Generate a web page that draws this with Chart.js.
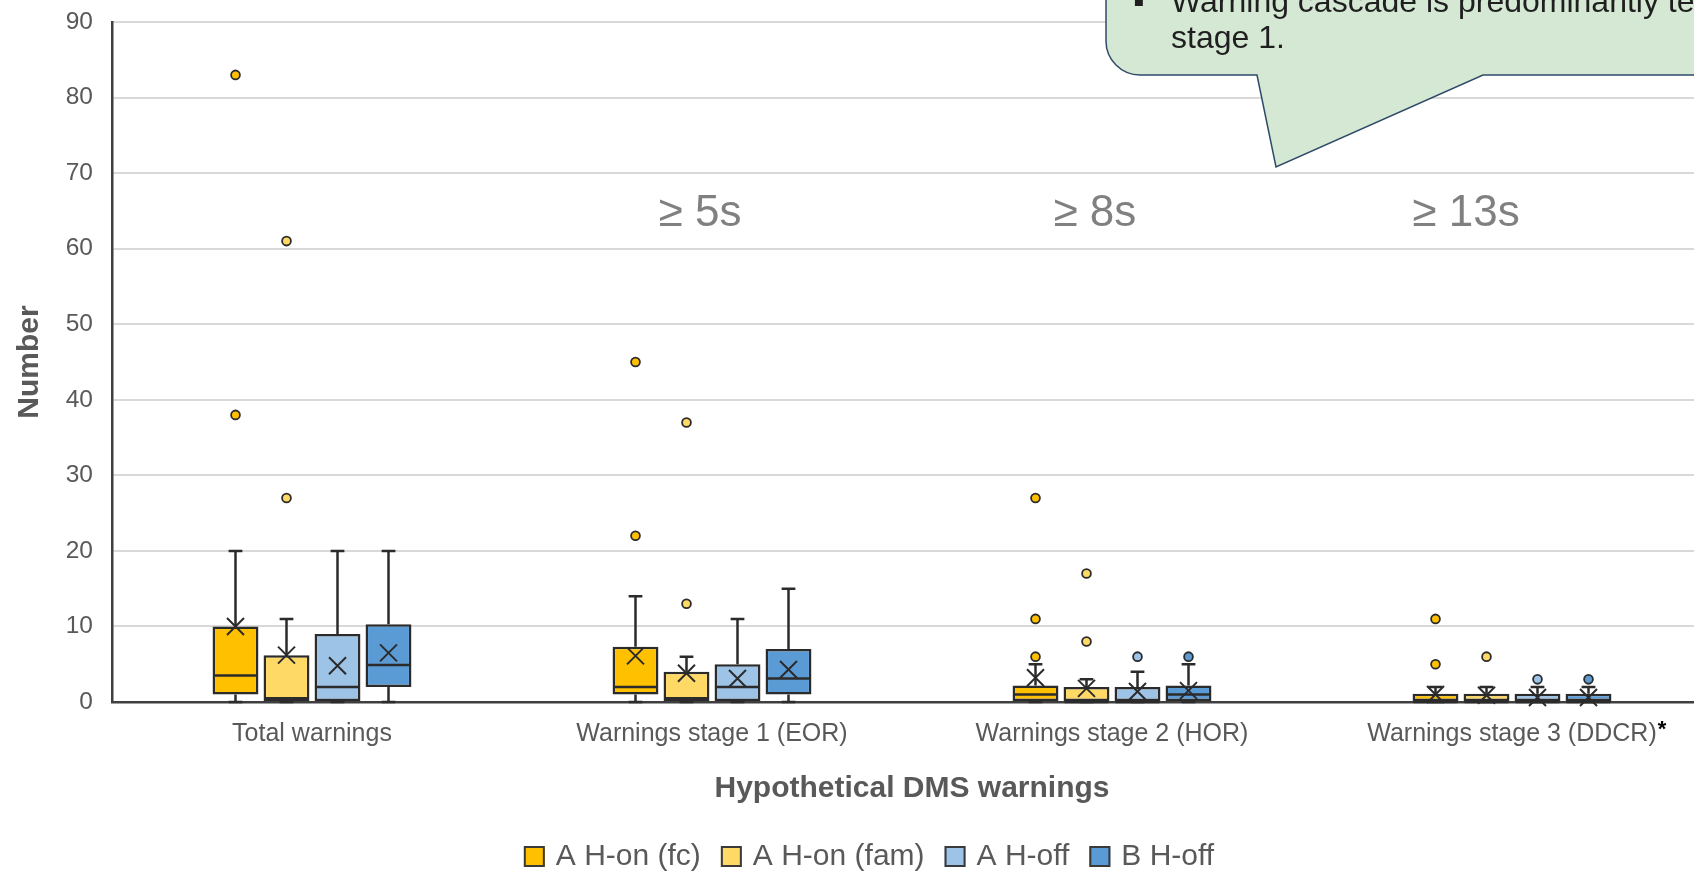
<!DOCTYPE html>
<html>
<head>
<meta charset="utf-8">
<script src="https://cdn.jsdelivr.net/npm/chart.js@4.4.1/dist/chart.umd.min.js"></script>
<style>
  html, body { margin: 0; padding: 0; background: #ffffff; overflow: hidden; width: 1694px; height: 875px; }
  canvas { display: block; }
</style>
</head>
<body>
<canvas id="chart" width="1738" height="875"></canvas>
<script>
// Categories on the x axis and the four groups compared in each
const categories = ['Total warnings', 'Warnings stage 1 (EOR)', 'Warnings stage 2 (HOR)', 'Warnings stage 3 (DDCR)'];
const seriesNames = ['A H-on (fc)', 'A H-on (fam)', 'A H-off', 'B H-off'];
const seriesColors = ['#FFC000', '#FFD966', '#9DC3E6', '#5B9BD5'];

// Box-plot statistics: one row per group, one value per category
const whiskerLow = [
  [0, 0, 0, 0],
  [0, 0, 0, 0],
  [0, 0, 0, 0],
  [0, 0, 0, 0]
];
const quartile1 = [
  [1, 1, 0, 0],
  [0, 0, 0, 0],
  [0, 0, 0, 0],
  [2, 1, 0, 0]
];
const medians = [
  [3.5, 2, 1, 0],
  [0.5, 0.5, 0, 0],
  [2, 2, 0, 0],
  [4.9, 3.1, 1, 0]
];
const quartile3 = [
  [10, 7.3, 2.2, 1.1],
  [6.2, 4, 2, 1.1],
  [9, 5, 2, 1.1],
  [10.3, 7, 2.2, 1.1]
];
const whiskerHigh = [
  [20, 14, 5, 2],
  [11, 6, 3, 2],
  [20, 11, 4, 2],
  [20, 15, 5, 2]
];
const means = [
  [10, 6.1, 3.2, 1.0],
  [6.2, 3.8, 1.8, 0.9],
  [4.8, 3.1, 1.4, 0.6],
  [6.5, 4.3, 1.5, 0.6]
];
const outliers = [
  [[38, 83], [22, 45], [6, 11, 27], [5, 11]],
  [[27, 61], [13, 37], [8, 17], [6]],
  [[], [], [6], [3]],
  [[], [], [6], [3]]
];

// Y axis ticks
const yTicks = [0, 10, 20, 30, 40, 50, 60, 70, 80, 90];

// Time-threshold notes above the stage categories
const thresholdText = ['\u2265 5s', '\u2265 8s', '\u2265 13s'];
const thresholdX = [0.97, 1.957, 2.885];
const thresholdY = 64.6;

const FONT = "'Liberation Sans', Arial, Helvetica, sans-serif";
const EDGE = '#2b2b2b';
const TEXT = '#595959';

Chart.defaults.font.family = FONT;

const boxDatasets = seriesNames.map((name, s) => ({
  label: name,
  data: categories.map((_, c) => [quartile1[s][c], quartile3[s][c]]),
  backgroundColor: seriesColors[s],
  borderColor: EDGE,
  borderWidth: 2.5,
  borderSkipped: false,
  categoryPercentage: 0.51,
  barPercentage: 0.9
}));

// Whiskers, medians, means and outliers drawn around the floating bars
const boxDetails = {
  id: 'boxDetails',
  beforeDatasetsDraw(chart) {
    const { ctx } = chart;
    const y = chart.scales.y;
    ctx.save();
    ctx.strokeStyle = EDGE;
    ctx.lineWidth = 2.5;
    chart.data.datasets.forEach((ds, s) => {
      chart.getDatasetMeta(s).data.forEach((bar, c) => {
        const cap = bar.width * 0.3;
        const yLo = y.getPixelForValue(whiskerLow[s][c]);
        const yHi = y.getPixelForValue(whiskerHigh[s][c]);
        const yQ1 = y.getPixelForValue(quartile1[s][c]);
        const yQ3 = y.getPixelForValue(quartile3[s][c]);
        ctx.beginPath();
        ctx.moveTo(bar.x, yQ3); ctx.lineTo(bar.x, yHi);
        ctx.moveTo(bar.x - cap / 2, yHi); ctx.lineTo(bar.x + cap / 2, yHi);
        ctx.moveTo(bar.x, yQ1); ctx.lineTo(bar.x, yLo);
        ctx.moveTo(bar.x - cap / 2, yLo); ctx.lineTo(bar.x + cap / 2, yLo);
        ctx.stroke();
      });
    });
    ctx.restore();
  },
  afterDatasetsDraw(chart) {
    const { ctx } = chart;
    const y = chart.scales.y;
    ctx.save();
    chart.data.datasets.forEach((ds, s) => {
      chart.getDatasetMeta(s).data.forEach((bar, c) => {
        const half = bar.width / 2;
        // median
        const yMed = y.getPixelForValue(medians[s][c]);
        ctx.strokeStyle = EDGE;
        ctx.lineWidth = 2.5;
        ctx.beginPath();
        ctx.moveTo(bar.x - half + 1, yMed);
        ctx.lineTo(bar.x + half - 1, yMed);
        ctx.stroke();
        // mean marker
        const yMean = y.getPixelForValue(means[s][c]);
        const m = 8.5;
        ctx.lineWidth = 2;
        ctx.beginPath();
        ctx.moveTo(bar.x - m, yMean - m); ctx.lineTo(bar.x + m, yMean + m);
        ctx.moveTo(bar.x + m, yMean - m); ctx.lineTo(bar.x - m, yMean + m);
        ctx.stroke();
        // outliers
        outliers[s][c].forEach(v => {
          const yp = y.getPixelForValue(v);
          ctx.beginPath();
          ctx.arc(bar.x, yp, 4.4, 0, Math.PI * 2);
          ctx.fillStyle = seriesColors[s];
          ctx.fill();
          ctx.lineWidth = 1.8;
          ctx.strokeStyle = EDGE;
          ctx.stroke();
        });
      });
    });
    ctx.restore();
  },
  afterDraw(chart) {
    const { ctx } = chart;
    const x = chart.scales.x;
    const y = chart.scales.y;
    ctx.save();

    // threshold notes
    ctx.font = '44px ' + FONT;
    ctx.fillStyle = '#808080';
    ctx.textAlign = 'center';
    ctx.textBaseline = 'middle';
    thresholdText.forEach((t, i) => {
      ctx.fillText(t, x.getPixelForValue(thresholdX[i]), y.getPixelForValue(thresholdY));
    });

    // footnote marker on the last category label
    ctx.font = '25px ' + FONT;
    const lastLabel = categories[categories.length - 1];
    const lw = ctx.measureText(lastLabel).width;
    ctx.font = 'bold 22px ' + FONT;
    ctx.fillStyle = '#000000';
    ctx.textAlign = 'left';
    ctx.textBaseline = 'top';
    ctx.fillText('*', x.getPixelForValue(categories.length - 1) + lw / 2 + 1, 719);

    // legend
    ctx.font = '30px ' + FONT;
    ctx.textBaseline = 'middle';
    const sq = 21, gapText = 11, gapItem = 20;
    const widths = seriesNames.map(n => ctx.measureText(n).width);
    const total = widths.reduce((a, w) => a + sq + gapText + w, 0) + gapItem * (seriesNames.length - 1);
    let lx = chart.width / 2 - total / 2;
    const ly = 856.5;
    seriesNames.forEach((n, i) => {
      ctx.fillStyle = seriesColors[i];
      ctx.fillRect(lx, ly - sq / 2, sq, sq);
      ctx.strokeStyle = '#3a3a3a';
      ctx.lineWidth = 2;
      ctx.strokeRect(lx + 1, ly - sq / 2 + 1, sq - 2, sq - 2);
      ctx.fillStyle = TEXT;
      ctx.fillText(n, lx + sq + gapText, ly);
      lx += sq + gapText + widths[i] + gapItem;
    });

    // speech-bubble callout in the top right
    const L = 1106, B = 75, T = -80, R = 1800, r = 34;
    ctx.beginPath();
    ctx.moveTo(L, T);
    ctx.lineTo(L, B - r);
    ctx.arcTo(L, B, L + r, B, r);
    ctx.lineTo(1257, B);
    ctx.lineTo(1276, 167);
    ctx.lineTo(1483, B);
    ctx.lineTo(R, B);
    ctx.lineTo(R, T);
    ctx.closePath();
    ctx.fillStyle = '#D5E8D4';
    ctx.fill();
    ctx.strokeStyle = '#2F4A68';
    ctx.lineWidth = 1.5;
    ctx.stroke();

    ctx.fillStyle = '#1f1f1f';
    ctx.textAlign = 'left';
    ctx.textBaseline = 'alphabetic';
    ctx.font = '32px ' + FONT;
    ctx.fillText('\u25AA', 1133, 12);
    ctx.fillText('Warning cascade is predominantly terminated in', 1171, 12);
    ctx.fillText('stage 1.', 1171, 48);

    ctx.restore();
  }
};

new Chart(document.getElementById('chart'), {
  type: 'bar',
  data: { labels: categories, datasets: boxDatasets },
  options: {
    responsive: false,
    animation: false,
    devicePixelRatio: 1,
    events: [],
    layout: { padding: { top: 22, right: 26, bottom: 0, left: 0 } },
    plugins: { legend: { display: false }, tooltip: { enabled: false } },
    scales: {
      x: {
        type: 'category',
        offset: true,
        grid: { display: false, drawTicks: false },
        border: { display: true, color: '#3f3f3f', width: 2.5 },
        ticks: { font: { size: 25 }, color: TEXT, padding: 17, maxRotation: 0, autoSkip: false },
        title: {
          display: true, text: 'Hypothetical DMS warnings', color: TEXT,
          font: { size: 30, weight: 'bold' }, padding: { top: 0, bottom: 68 }
        },
        afterFit(scale) { scale.height = 173; }
      },
      y: {
        min: 0, max: 90,
        grid: { color: '#D9D9D9', lineWidth: 2, drawTicks: false },
        border: { display: true, color: '#3f3f3f', width: 2.5 },
        afterBuildTicks(scale) { scale.ticks = yTicks.map(v => ({ value: v })); },
        ticks: { font: { size: 24.5 }, color: TEXT, padding: 19 },
        title: {
          display: true, text: 'Number', color: TEXT,
          font: { size: 30, weight: 'bold' }, padding: { top: 12, bottom: 0 }
        },
        afterFit(scale) {
          scale.width = 112;
          scale.paddingTop = 0;
          scale.paddingBottom = 0;
        }
      }
    }
  },
  plugins: [boxDetails]
});
</script>
</body>
</html>
